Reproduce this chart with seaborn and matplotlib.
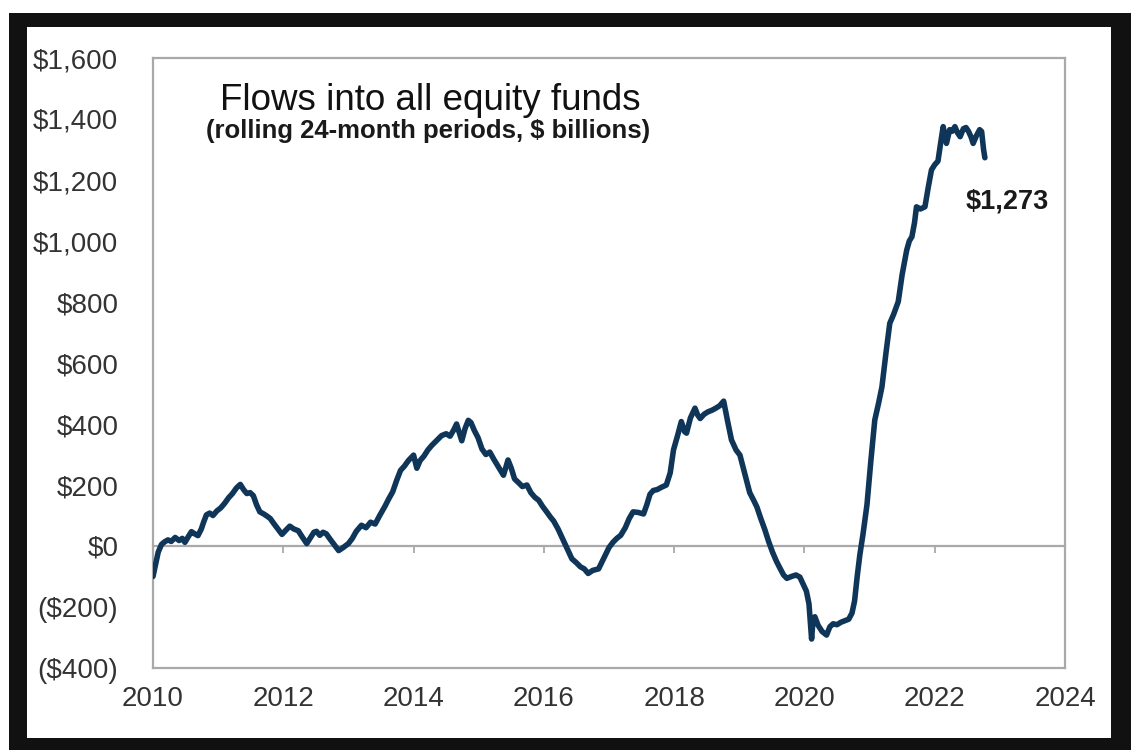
import matplotlib
matplotlib.use("Agg")
import matplotlib.pyplot as plt
import matplotlib.ticker as mticker
from matplotlib.patches import Rectangle
import pandas as pd
import seaborn as sns

# Rolling 24-month flows into all equity funds, $ billions (decimal year, value)
years = [
    2010.00, 2010.04, 2010.08, 2010.13, 2010.18, 2010.23, 2010.28, 2010.34, 2010.40, 2010.45,
    2010.49, 2010.54, 2010.59, 2010.64, 2010.69, 2010.74, 2010.78, 2010.82, 2010.87, 2010.92,
    2010.98, 2011.04, 2011.10, 2011.16, 2011.22, 2011.28, 2011.34, 2011.39, 2011.44, 2011.49,
    2011.54, 2011.59, 2011.64, 2011.70, 2011.75, 2011.80, 2011.86, 2011.92, 2011.98, 2012.04,
    2012.10, 2012.16, 2012.23, 2012.29, 2012.36, 2012.42, 2012.47, 2012.51, 2012.56, 2012.61,
    2012.66, 2012.72, 2012.78, 2012.85, 2012.92, 2013.00, 2013.06, 2013.12, 2013.20, 2013.27,
    2013.34, 2013.41, 2013.48, 2013.56, 2013.62, 2013.68, 2013.74, 2013.80, 2013.86, 2013.92,
    2014.00, 2014.05, 2014.10, 2014.16, 2014.22, 2014.28, 2014.35, 2014.43, 2014.50, 2014.56,
    2014.62, 2014.66, 2014.70, 2014.74, 2014.79, 2014.84, 2014.88, 2014.93, 2014.99, 2015.05,
    2015.11, 2015.17, 2015.23, 2015.30, 2015.38, 2015.45, 2015.50, 2015.55, 2015.61, 2015.67,
    2015.74, 2015.80, 2015.86, 2015.92, 2015.98, 2016.05, 2016.10, 2016.15, 2016.22, 2016.30,
    2016.36, 2016.43, 2016.50, 2016.56, 2016.62, 2016.68, 2016.75, 2016.84, 2016.92, 2017.00,
    2017.06, 2017.12, 2017.18, 2017.25, 2017.31, 2017.37, 2017.45, 2017.53, 2017.58, 2017.63,
    2017.68, 2017.74, 2017.80, 2017.88, 2017.94, 2017.99, 2018.05, 2018.11, 2018.16, 2018.19,
    2018.25, 2018.32, 2018.36, 2018.40, 2018.46, 2018.52, 2018.58, 2018.64, 2018.70, 2018.76,
    2018.82, 2018.88, 2018.95, 2019.01, 2019.08, 2019.16, 2019.22, 2019.27, 2019.33, 2019.39,
    2019.45, 2019.51, 2019.57, 2019.63, 2019.68, 2019.73, 2019.80, 2019.87, 2019.93, 2019.98,
    2020.03, 2020.07, 2020.11, 2020.13, 2020.16, 2020.21, 2020.27, 2020.34, 2020.39, 2020.44,
    2020.50, 2020.56, 2020.62, 2020.68, 2020.73, 2020.77, 2020.81, 2020.85, 2020.90, 2020.96,
    2021.02, 2021.08, 2021.14, 2021.19, 2021.25, 2021.31, 2021.37, 2021.44, 2021.50, 2021.57,
    2021.61, 2021.65, 2021.69, 2021.72, 2021.78, 2021.85, 2021.90, 2021.95, 2022.00, 2022.05,
    2022.09, 2022.13, 2022.16, 2022.18, 2022.23, 2022.27, 2022.31, 2022.35, 2022.39, 2022.44,
    2022.48, 2022.52, 2022.56, 2022.59, 2022.64, 2022.69, 2022.72, 2022.75, 2022.77,
]
flows = [
    -100, -60, -20, 5, 14, 20, 15, 28, 18, 25,
    12, 30, 47, 40, 34, 55, 80, 102, 108, 100,
    115, 125, 140, 158, 172, 190, 202, 185, 172, 175,
    165, 135, 112, 105, 98, 90, 72, 55, 38, 52,
    65, 56, 50, 30, 8, 28, 45, 48, 35, 45,
    40, 22, 5, -15, -5, 8, 25, 48, 68, 60,
    78, 72, 100, 130, 155, 178, 215, 248, 262, 280,
    298, 255, 280, 295, 315, 330, 345, 362, 368, 360,
    382, 400, 372, 345, 385, 412, 405, 380, 355, 318,
    300, 308, 285, 260, 232, 282, 255, 220, 208, 195,
    200, 175, 160, 150, 130, 110, 95, 82, 55, 18,
    -10, -42, -55, -68, -75, -90, -80, -75, -40, -5,
    12, 25, 35, 60, 90, 112, 110, 105, 135, 170,
    182, 185, 192, 200, 240, 315, 360, 408, 375, 370,
    420, 452, 430, 418, 432, 440, 445, 452, 460, 475,
    410, 348, 315, 298, 240, 175, 150, 128, 90, 55,
    15, -20, -50, -75, -95, -106, -100, -95, -102, -125,
    -148, -190, -305, -250, -232, -260, -280, -292, -265, -255,
    -258, -250, -245, -240, -220, -180, -100, -30, 40, 135,
    280, 413, 470, 522, 630, 730, 760, 801, 890, 970,
    1000, 1014, 1060, 1112, 1105, 1112, 1175, 1233, 1250, 1262,
    1320, 1375, 1340, 1320, 1365, 1360, 1375, 1355, 1342, 1368,
    1372, 1359, 1340, 1320, 1345, 1365, 1359, 1300, 1273,
]

x_ticks = list(range(2010, 2025, 2))
y_ticks = list(range(-400, 1601, 200))
title_text = "Flows into all equity funds"
subtitle_text = "(rolling 24-month periods, $ billions)"
last_label = "$1,273"

line_color = "#0f3658"
frame_gray = "#a9a9a9"
label_color = "#333333"

sns.set_theme(style="white")
plt.rcParams["font.family"] = ["Liberation Sans", "DejaVu Sans"]

W, H = 1131, 750
fig = plt.figure(figsize=(W / 100, H / 100), dpi=100)
fig.patch.set_facecolor("white")

# Black picture frame around the white chart card
fig.add_artist(Rectangle((9 / W, 0), 1 - 9 / W, 1 - 13 / H, transform=fig.transFigure,
                         facecolor="#111111", edgecolor="none", zorder=-3))
fig.add_artist(Rectangle((27 / W, 12 / H), (1111 - 27) / W, (738 - 27) / H,
                         transform=fig.transFigure, facecolor="white",
                         edgecolor="none", zorder=-2))

ax = fig.add_axes([153 / W, 1 - 668 / H, (1065 - 153) / W, (668 - 58) / H])
ax.set_facecolor("white")

df = pd.DataFrame({"year": years, "flows": flows})
sns.lineplot(data=df, x="year", y="flows", ax=ax, color=line_color,
             linewidth=4.0, estimator=None, sort=False, zorder=3)

ymin, ymax = y_ticks[0], y_ticks[-1]
ax.set_xlim(x_ticks[0], x_ticks[-1])
ax.set_ylim(ymin, ymax)
ax.set_xticks(x_ticks)
ax.set_yticks(y_ticks)
ax.set_xlabel("")
ax.set_ylabel("")


def money(v, pos):
    return f"${v:,.0f}" if v >= 0 else f"(${-v:,.0f})"


ax.yaxis.set_major_formatter(mticker.FuncFormatter(money))

for spine in ax.spines.values():
    spine.set_visible(True)
    spine.set_color(frame_gray)
    spine.set_linewidth(1.6)

ax.tick_params(axis="x", length=0, pad=13, labelsize=20, labelcolor=label_color)
ax.tick_params(axis="y", direction="out", length=6, width=1.4, color=frame_gray,
               pad=19, labelsize=20, labelcolor=label_color)

# Zero line carrying the year tick marks
zero_pos = (0 - ymin) / (ymax - ymin)
zero_axis = ax.secondary_xaxis(zero_pos)
zero_axis.set_xticks(x_ticks)
zero_axis.tick_params(axis="x", direction="out", length=5, width=1.3,
                      color=frame_gray, labelbottom=False, labeltop=False)
for name, spine in zero_axis.spines.items():
    spine.set_color(frame_gray)
    spine.set_linewidth(1.6)

ax.text(0.304, 0.931, title_text, transform=ax.transAxes, ha="center", va="center",
        fontsize=26.5, color="#111111")
ax.text(0.302, 0.880, subtitle_text, transform=ax.transAxes, ha="center", va="center",
        fontsize=18.5, fontweight="bold", color="#1a1a1a")

ax.text(years[-1] - 0.3, 1128, last_label, ha="left", va="center",
        fontsize=19.5, fontweight="bold", color="#1a1a1a")

fig.savefig("out.png", dpi=100)
